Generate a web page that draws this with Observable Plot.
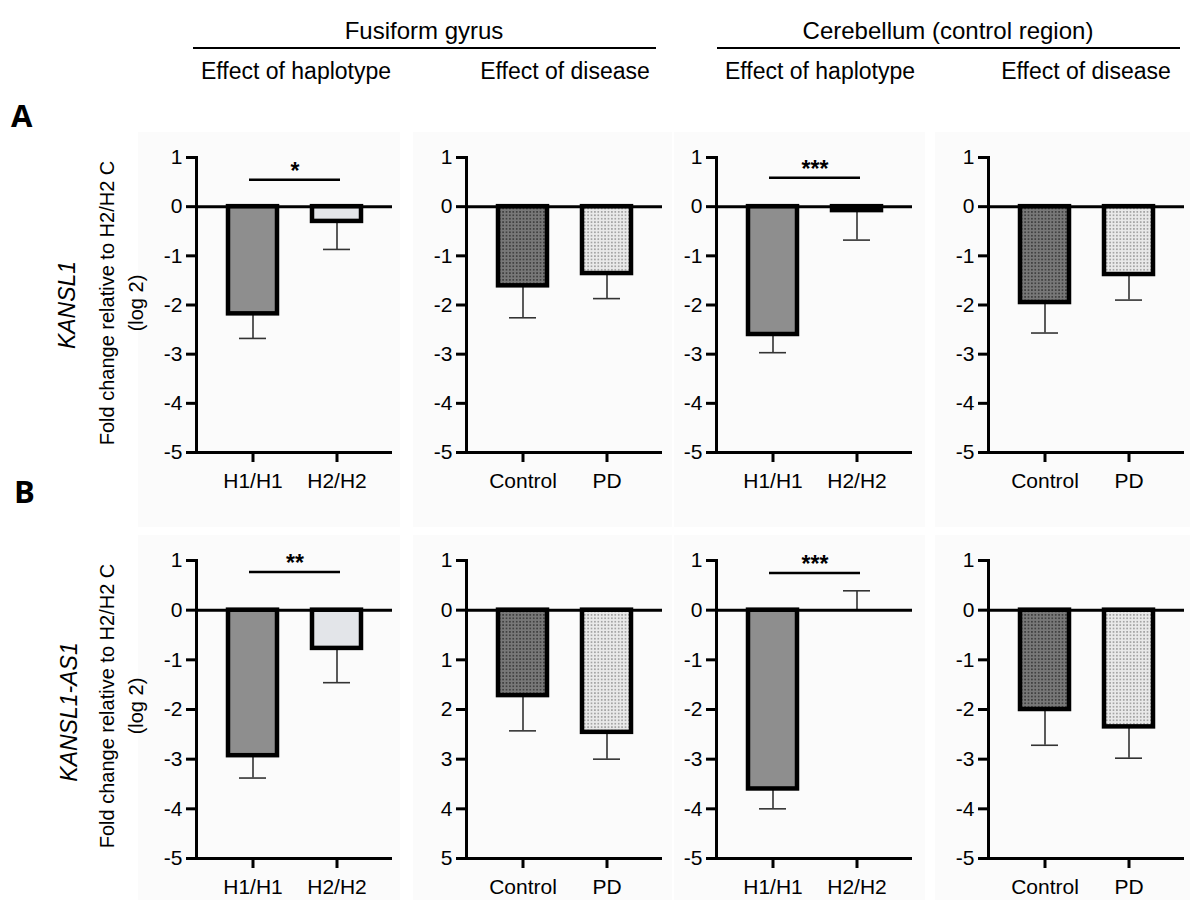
<!DOCTYPE html>
<html>
<head>
<meta charset="utf-8">
<script src="https://cdn.jsdelivr.net/npm/d3@7"></script>
<script src="https://cdn.jsdelivr.net/npm/@observablehq/plot@0.6"></script>
<style>
  body { margin: 0; background: #ffffff; }
  #root { position: relative; width: 1190px; height: 900px; overflow: hidden;
          font-family: "Liberation Sans", Arial, sans-serif; color: #000; }
  .abs { position: absolute; white-space: nowrap; }
  .panel { position: absolute; }
</style>
</head>
<body>
<div id="root">
  <svg width="0" height="0" style="position:absolute;left:0;top:0">
    <defs>
      <pattern id="dotsDark" width="3.4" height="3.4" patternUnits="userSpaceOnUse">
        <rect width="3.4" height="3.4" fill="#787878"></rect>
        <rect x="0.9" y="0.9" width="1.6" height="1.6" fill="#3a3a3a"></rect>
      </pattern>
      <pattern id="dotsLight" width="3.4" height="3.4" patternUnits="userSpaceOnUse">
        <rect width="3.4" height="3.4" fill="#e9e9e9"></rect>
        <rect x="0.9" y="0.9" width="1.6" height="1.6" fill="#9c9c9c"></rect>
      </pattern>
    </defs>
  </svg>
</div>
<script>
// ---------------- DATA ----------------
const categoriesHaplotype = ["H1/H1", "H2/H2"];
const categoriesDisease = ["Control", "PD"];
const yTicks = [-5, -4, -3, -2, -1, 0, 1];

// Row A: KANSL1 (mean fold change, log2; SEM)
const kansl1FusiformHaplotypeMean = [-2.18, -0.30];
const kansl1FusiformHaplotypeSEM  = [0.50, 0.57];
const kansl1FusiformDiseaseMean   = [-1.61, -1.36];
const kansl1FusiformDiseaseSEM    = [0.65, 0.51];
const kansl1CerebellumHaplotypeMean = [-2.60, -0.08];
const kansl1CerebellumHaplotypeSEM  = [0.37, 0.60];
const kansl1CerebellumDiseaseMean   = [-1.95, -1.38];
const kansl1CerebellumDiseaseSEM    = [0.62, 0.52];

// Row B: KANSL1-AS1
const as1FusiformHaplotypeMean = [-2.93, -0.77];
const as1FusiformHaplotypeSEM  = [0.45, 0.69];
const as1FusiformDiseaseMean   = [-1.72, -2.46];
const as1FusiformDiseaseSEM    = [0.71, 0.54];
const as1CerebellumHaplotypeMean = [-3.60, 0.00];
const as1CerebellumHaplotypeSEM  = [0.40, 0.39];
const as1CerebellumDiseaseMean   = [-2.00, -2.35];
const as1CerebellumDiseaseSEM    = [0.72, 0.63];

// Significance annotations (haplotype comparisons)
const sigKansl1Fusiform   = { label: "*",   y: 0.55 };
const sigKansl1Cerebellum = { label: "***", y: 0.59 };
const sigAs1Fusiform      = { label: "**",  y: 0.77 };
const sigAs1Cerebellum    = { label: "***", y: 0.75 };

const regionHeaders = ["Fusiform gyrus", "Cerebellum (control region)"];
const panelHeaders = ["Effect of haplotype", "Effect of disease", "Effect of haplotype", "Effect of disease"];
const geneLabels = ["KANSL1", "KANSL1-AS1"];
const yTitleLines = ["Fold change relative to H2/H2 C", "(log 2)"];

// ---------------- STYLE / LAYOUT ----------------
const fills = { "H1/H1": "#8e8e8e", "H2/H2": "#e3e5e9", "Control": "url(#dotsDark)", "PD": "url(#dotsLight)" };
const cols = [
  { left: 138, axis: 196, right: 400 },
  { left: 413, axis: 466, right: 672 },
  { left: 674, axis: 716, right: 925 },
  { left: 935, axis: 988, right: 1190 }
];
const rows = [
  { top: 132, y1: 157, y5: 452, bottom: 527 },
  { top: 535, y1: 560, y5: 858, bottom: 900 }
];
const plotW = 196;
const FONT = "'Liberation Sans', Arial, sans-serif";
const root = document.getElementById("root");

const plainFmt = d => String(d);
const absFmt = d => String(Math.abs(d));

const panels = [
  { row: 0, col: 0, cats: categoriesHaplotype, mean: kansl1FusiformHaplotypeMean, sem: kansl1FusiformHaplotypeSEM, sig: sigKansl1Fusiform, fmt: plainFmt },
  { row: 0, col: 1, cats: categoriesDisease, mean: kansl1FusiformDiseaseMean, sem: kansl1FusiformDiseaseSEM, fmt: plainFmt },
  { row: 0, col: 2, cats: categoriesHaplotype, mean: kansl1CerebellumHaplotypeMean, sem: kansl1CerebellumHaplotypeSEM, sig: sigKansl1Cerebellum, fmt: plainFmt },
  { row: 0, col: 3, cats: categoriesDisease, mean: kansl1CerebellumDiseaseMean, sem: kansl1CerebellumDiseaseSEM, fmt: plainFmt },
  { row: 1, col: 0, cats: categoriesHaplotype, mean: as1FusiformHaplotypeMean, sem: as1FusiformHaplotypeSEM, sig: sigAs1Fusiform, fmt: plainFmt },
  { row: 1, col: 1, cats: categoriesDisease, mean: as1FusiformDiseaseMean, sem: as1FusiformDiseaseSEM, fmt: absFmt },
  { row: 1, col: 2, cats: categoriesHaplotype, mean: as1CerebellumHaplotypeMean, sem: as1CerebellumHaplotypeSEM, sig: sigAs1Cerebellum, fmt: plainFmt },
  { row: 1, col: 3, cats: categoriesDisease, mean: as1CerebellumDiseaseMean, sem: as1CerebellumDiseaseSEM, fmt: plainFmt }
];

function makePanel(p) {
  const c = cols[p.col], r = rows[p.row];
  const data = p.cats.map((cat, i) => ({
    cat,
    mean: p.mean[i],
    end: p.mean[i] >= 0 ? p.mean[i] + p.sem[i] : p.mean[i] - p.sem[i],
    fill: fills[cat]
  }));
  const bars = data.filter(d => d.mean !== 0);
  const marks = [
    Plot.ruleX(data, { x: "cat", y1: "mean", y2: "end", stroke: "#333", strokeWidth: 1.6 }),
    Plot.tickY(data, { x: "cat", y: "end", stroke: "#333", strokeWidth: 1.6, insetLeft: 11, insetRight: 11 }),
    Plot.barY(bars, { x: "cat", y1: 0, y2: "mean", fill: "fill", stroke: "#000", strokeWidth: 4.5 }),
    Plot.ruleY([0], { stroke: "#000", strokeWidth: 3 }),
    Plot.ruleY([-5], { stroke: "#000", strokeWidth: 3 }),
    Plot.frame({ anchor: "left", stroke: "#000", strokeWidth: 3 }),
    Plot.axisY({ ticks: yTicks, tickSize: 10, tickPadding: 4, fontSize: 21, strokeWidth: 3, tickFormat: p.fmt, label: null }),
    Plot.axisX({ tickSize: 10, tickPadding: 11, fontSize: 21, strokeWidth: 3, label: null })
  ];
  if (p.sig) {
    const s = [{ y: p.sig.y, a: p.cats[0], b: p.cats[1], label: p.sig.label }];
    marks.push(Plot.ruleY(s, { y: "y", x1: "a", x2: "b", stroke: "#000", strokeWidth: 2.5, insetLeft: 21, insetRight: 21 }));
    marks.push(Plot.text(s, { x: "a", y: "y", text: "label", dx: 42, dy: -1, lineAnchor: "bottom", fontSize: 23, fontWeight: "bold" }));
  }
  const svg = Plot.plot({
    width: c.right - c.left,
    height: r.bottom - r.top,
    marginLeft: c.axis - c.left,
    marginRight: c.right - (c.axis + plotW),
    marginTop: r.y1 - r.top,
    marginBottom: r.bottom - r.y5,
    style: { background: "#fbfbfb", fontFamily: FONT, color: "#000", overflow: "visible" },
    x: { type: "band", domain: p.cats, paddingInner: 0.417, paddingOuter: 0.375, label: null },
    y: { domain: [-5, 1], label: null },
    color: { type: "identity" },
    marks
  });
  const wrap = document.createElement("div");
  wrap.className = "panel";
  wrap.style.left = c.left + "px";
  wrap.style.top = r.top + "px";
  wrap.appendChild(svg);
  root.appendChild(wrap);
}
panels.forEach(makePanel);

// ---------------- TEXT ----------------
function addText(txt, x, baseline, size, opts = {}) {
  const d = document.createElement("div");
  d.className = "abs";
  d.textContent = txt;
  d.style.fontSize = size + "px";
  d.style.lineHeight = size + "px";
  d.style.fontFamily = opts.family || FONT;
  if (opts.weight) d.style.fontWeight = opts.weight;
  d.style.top = (baseline - 0.85 * size) + "px";
  d.style.left = x + "px";
  if (opts.anchor === "middle") d.style.transform = "translateX(-50%)";
  root.appendChild(d);
  return d;
}
function addLine(x1, x2, y, w) {
  const d = document.createElement("div");
  d.className = "abs";
  d.style.left = x1 + "px"; d.style.top = (y - w / 2) + "px";
  d.style.width = (x2 - x1) + "px"; d.style.height = w + "px";
  d.style.background = "#000";
  root.appendChild(d);
}
function addRotated(lines, cx, cy, size, opts = {}) {
  const d = document.createElement("div");
  d.className = "abs";
  d.style.left = cx + "px"; d.style.top = cy + "px";
  d.style.transform = "translate(-50%, -50%) rotate(-90deg)";
  d.style.fontSize = size + "px";
  d.style.lineHeight = (opts.lineHeight || size) + "px";
  d.style.textAlign = "center";
  d.style.fontFamily = FONT;
  if (opts.italic) d.style.fontStyle = "italic";
  lines.forEach(t => {
    const s = document.createElement("div");
    s.textContent = t;
    d.appendChild(s);
  });
  root.appendChild(d);
}

// Region headers with rules
addText(regionHeaders[0], 424, 39, 24, { anchor: "middle" });
addLine(193, 656, 48, 2);
addText(regionHeaders[1], 948, 39, 24, { anchor: "middle" });
addLine(717, 1180, 48, 2);

// Panel headers
const headerCenters = [296, 565, 820, 1086];
panelHeaders.forEach((t, i) => addText(t, headerCenters[i], 80, 23, { anchor: "middle" }));

// Row letters
addText("A", 11, 126, 31, { weight: 700, family: "'Open Sans', 'DejaVu Sans', sans-serif" });
addText("B", 14, 502, 31, { weight: 700, family: "'Open Sans', 'DejaVu Sans', sans-serif" });

// Y-axis titles
addRotated([geneLabels[0]], 67, 305, 23, { italic: true });
addRotated(yTitleLines, 122, 303, 20, { lineHeight: 29 });
addRotated([geneLabels[1]], 69, 712, 23, { italic: true });
addRotated(yTitleLines, 122, 706, 20, { lineHeight: 29 });
</script>
</body>
</html>
